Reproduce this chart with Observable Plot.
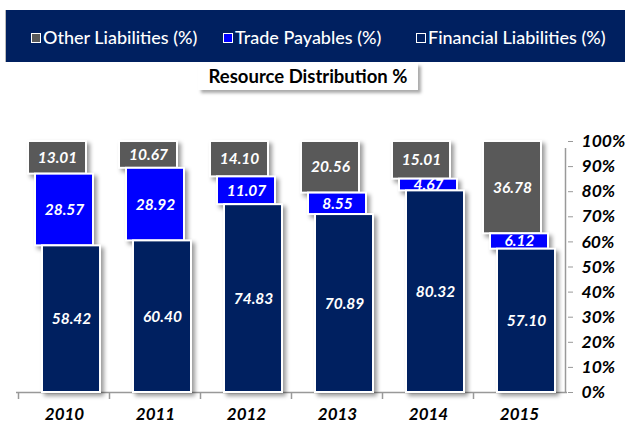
<!DOCTYPE html>
<html><head><meta charset="utf-8">
<script src="https://cdn.jsdelivr.net/npm/d3@7"></script>
<script src="https://cdn.jsdelivr.net/npm/@observablehq/plot@0.6"></script>
<style>
body{margin:0;background:#fff;width:625px;height:426px;overflow:hidden;font-family:Lato,"DejaVu Sans",sans-serif;position:relative}
#legend{position:absolute;left:5px;top:10px;width:620px;height:52px;background:#002060;border-left:1px solid #bbb}
.sq{position:absolute;top:23px;width:8px;height:8px;border:1.5px solid #fff}
.lt{position:absolute;top:17px;color:#fff;font-size:18px;line-height:20px;white-space:nowrap;font-weight:500}
#title{position:absolute;left:198px;top:63px;width:220px;height:27px;background:#fff;box-shadow:3px 3px 3px #aaa;text-align:center;font-weight:bold;font-size:18.5px;line-height:27px;color:#000}
#chart{position:absolute;left:0;top:100px}
</style></head>
<body>
<div id="legend"></div>
<div id="title">Resource Distribution %</div>
<div id="chart"></div>
<script>
const years = ["2010", "2011", "2012", "2013", "2014", "2015"];
const financial = [58.42, 60.40, 74.83, 70.89, 80.32, 57.10];
const trade = [28.57, 28.92, 11.07, 8.55, 4.67, 6.12];
const other = [13.01, 10.67, 14.10, 20.56, 15.01, 36.78];
const seriesNames = ["Other Liabilities (%)", "Trade Payables (%)", "Financial Liabilities (%)"];
const colors = ["#595959", "#0000ff", "#002060"];
const yTicks = [0, 10, 20, 30, 40, 50, 60, 70, 80, 90, 100];

// legend
const legendLeft = [25, 217, 410];
const leg = document.getElementById("legend");
seriesNames.forEach((n, i) => {
  const s = document.createElement("div");
  s.className = "sq"; s.style.left = legendLeft[i] + "px"; s.style.background = colors[i];
  leg.appendChild(s);
  const t = document.createElement("div");
  t.className = "lt"; t.style.left = (legendLeft[i] + 12) + "px"; t.textContent = n;
  leg.appendChild(t);
});

const rows = [];
years.forEach((y, i) => {
  const f = financial[i], t = trade[i], o = other[i];
  rows.push({year: y, series: 2, v: f, y1: 0, y2: f});
  rows.push({year: y, series: 1, v: t, y1: f, y2: f + t});
  rows.push({year: y, series: 0, v: o, y1: f + t, y2: f + t + o});
});
const offs = [-7, 0, 7];
const shadow = "drop-shadow(3px 3px 2px rgba(0,0,0,0.4))";
const marks = [];
[0, 1, 2].forEach(s => {
  const d = rows.filter(r => r.series === s);
  marks.push(Plot.barY(d, {x: "year", y1: "y1", y2: "y2", fill: colors[s], stroke: "white", strokeWidth: 2, dx: offs[s], imageFilter: shadow}));
  marks.push(Plot.text(d, {x: "year", y: r => (r.y1 + r.y2) / 2, text: r => r.v.toFixed(2), dx: offs[s], fill: "white", fontWeight: "bold", fontStyle: "italic", fontSize: 15.5}));
});

const chart = Plot.plot({
  width: 625, height: 326,
  marginTop: 41, marginBottom: 34, marginLeft: 16, marginRight: 58,
  style: {fontFamily: "Lato, 'DejaVu Sans', sans-serif", background: "transparent"},
  x: {domain: years, paddingInner: 0.36, paddingOuter: 0.18, axis: null},
  y: {domain: [0, 100], axis: null},
  marks: [
    Plot.ruleY([0], {stroke: "#999", strokeWidth: 1.5}),
    Plot.ruleX(years, {x: d => d, dx: -46, y1: 0, y2: 0, insetBottom: -7, stroke: "#999", strokeWidth: 1.5}),
    Plot.ruleX([years[years.length - 1]], {x: d => d, dx: 46, y1: 0, y2: 100, insetBottom: -7, stroke: "#999", strokeWidth: 1.5}),
    Plot.axisY({anchor: "right", ticks: yTicks, tickFormat: d => d + "%", tickSize: 5, tickPadding: 9, stroke: "#999", fill: "black", fontSize: 17.5, fontWeight: "bold", fontStyle: "italic"}),
    ...marks,
    Plot.text(years, {x: d => d, y: 0, dy: 22, text: d => d, fill: "black", fontSize: 17, fontWeight: "bold", fontStyle: "italic"})
  ]
});
document.getElementById("chart").appendChild(chart);
</script>
</body></html>
